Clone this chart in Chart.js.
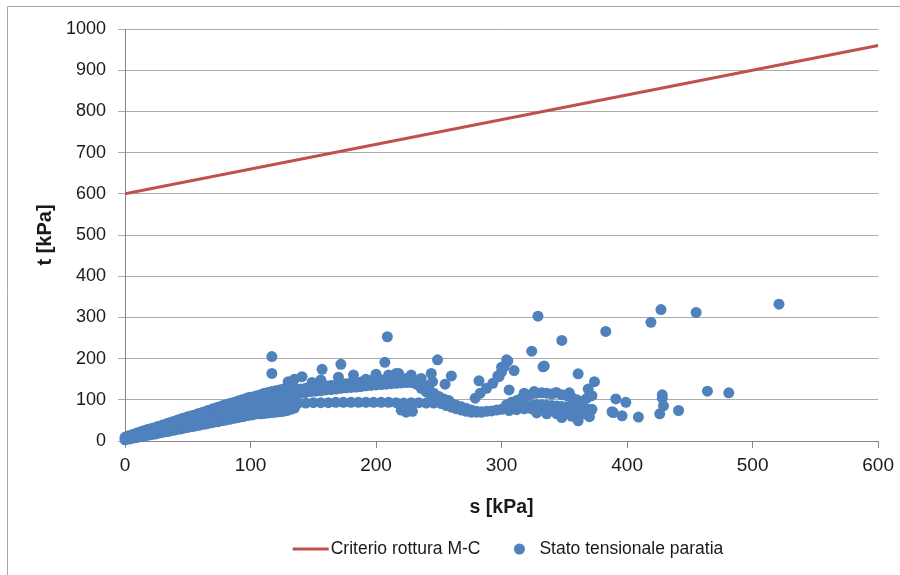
<!DOCTYPE html>
<html>
<head>
<meta charset="utf-8">
<title>Percorso tensionale paratia</title>
<script src="https://cdn.jsdelivr.net/npm/chart.js@4.4.1/dist/chart.umd.min.js"></script>
<style>
  html, body { margin: 0; padding: 0; background: #ffffff; }
  #wrap { width: 900px; height: 575px; }
</style>
</head>
<body>
<div id="wrap"><canvas id="mohrChart" width="900" height="575"></canvas></div>
<script>
/**************************************************
 * DATA  (s, t in kPa)
 **************************************************/

// Mohr-Coulomb failure envelope
const failureS = [0, 600];
const failureT = [600, 960];

// wall stress state, read as [s, t] pairs
const rampLower = [
  [0,3],[2,5],[4,5],[6,7],[8,8],[10,9],[12,11],[14,11],[16,13],[18,14],[20,15],[22,17],[24,17],
  [26,19],[28,20],[30,21],[32,23],[34,23],[36,25],[38,26],[40,27],[42,29],[44,29],[46,31],[48,32],
  [50,33],[52,35],[54,35],[56,37],[58,38],[60,39],[62,41],[64,41],[66,43],[68,44],[70,45],[72,47],
  [74,47],[76,49],[78,50],[80,51],[82,53],[84,53],[86,55],[88,56],[90,57],[92,59],[94,59],[96,61],
  [98,62],[100,63]
];

const rampUpper = [
  [0,9],[2,12],[4,13],[6,16],[8,17],[10,20],[12,21],[14,24],[16,25],[18,28],[20,29],[22,31],[24,32],
  [26,35],[28,36],[30,39],[32,40],[34,43],[36,44],[38,47],[40,48],[42,51],[44,52],[46,55],[48,56],
  [50,59],[52,60],[54,62],[56,63],[58,66],[60,67],[62,70],[64,71],[66,74],[68,75],[70,78],[72,79],
  [74,82],[76,83],[78,86],[80,87],[82,90],[84,91],[86,93],[88,94],[90,97],[92,98],[94,101],[96,102],
  [98,105],[100,106]
];

const rampMiddle = [
  [40,38],[43,40],[46,43],[49,45],[52,48],[55,50],[58,52],[61,55],[64,57],[67,59],[70,62],[73,64],
  [76,67],[79,69],[82,71],[85,74],[88,76],[91,78],[94,81],[97,83],[100,85]
];

const rampTop = [
  [102,64],[105,66],[108,66],[111,67],[114,68],[117,69],[120,70],[123,71],[126,72],[129,74],[132,77],[135,80],
  [102,78],[105,80],[108,82],[111,84],[114,86],[117,88],[120,90],[123,92],[126,94],[129,96],[132,98],[135,101],
  [102,94],[105,97],[108,100],[111,102],[114,105],[117,107],[120,110],[123,112],[126,114],[129,116],[132,118],[135,119],
  [102,107],[105,110],[108,112],[111,116],[114,118],[117,120],[120,122],[123,124],[126,126],[129,127],[132,128],[135,129]
];

const arcPoints = [
  [136,114],[140,116],[144,118],[148,120],[152,121],[156,122],[160,124],[164,125],[168,126],[172,128],
  [176,129],[180,130],[184,131],[188,132],[192,134],[196,135],[200,136],[204,137],[208,138],[212,139],
  [216,140],[220,141],[224,142],[228,142],
  [136,124],[140,126],[144,128],[148,130],[152,131],[156,132],[160,134],[164,135],[168,136],[172,138],
  [176,139],[180,141],[184,142],[188,143],[192,145],[196,146],[200,147],[204,148],[208,150],[212,150],
  [216,151],[220,152],[224,152],[228,150],
  [232,138],[236,128],[240,119],[244,111],[248,104],[252,99],[256,95],[260,91],[264,87],[268,83],
  [272,79],[276,75],[280,72],[284,70],
  [234,146],[238,136],[242,126],[246,116],[250,108],[254,102],[258,98]
];

const flatRow = [
  [126,90],[132,91],[138,92],[144,92],[150,93],[156,93],[162,93],[168,94],[174,94],[180,94],[186,94],
  [192,94],[198,94],[204,94],[210,94],[216,93],[222,92],[228,93],[234,93],[240,92],[246,92],[252,91],
  [220,75],[224,70],[229,72],[226,80],
  [256,86],[260,82],[264,78],[268,75],[272,72],[276,70],[280,70],[284,71],[288,72],[292,73],[296,75],[300,77]
];

const tailBand = [
  [304,80],[308,82],[312,84],[316,85],[320,86],[324,87],[328,88],[332,88],[336,87],[340,86],[344,85],
  [348,84],[352,83],[356,82],[360,80],[364,79],[368,78],[372,77],
  [306,74],[312,76],[318,78],[324,78],[330,77],[336,76],[342,74],[348,72],[354,73],[360,74],[366,72],
  [304,88],[308,94],[312,98],[316,104],[320,110],[324,114],[328,116],[332,117],[336,116],[340,114],
  [344,117],[348,112],[352,110],[356,105],[360,100],[364,96],[368,104],[372,110],
  [328,68],[336,66],[344,66],[348,57],[356,60],[361,49],[366,66],[370,59],
  [279,104],[283,116],[288,128],[293,140],[297,158],[298,156],[300,168],[300,179],[302,180],[304,197],
  [305,194],[310,171],[306,124],[318,116],[326,120]
];

const scatterPoints = [
  [117,205],[117,164],[130,144],[135,150],[141,156],[149,142],[156,148],[157,174],[170,155],[172,186],
  [182,160],[192,150],[200,162],[207,191],[209,253],[210,160],[216,164],[218,164],[228,160],[236,152],
  [244,164],[245,144],[249,197],[255,138],[260,158],[282,146],
  [324,218],[329,303],[333,180],[334,182],[343,117],[348,244],[354,117],[361,163],[369,126],[374,144],
  [383,266],[388,71],[389,69],[391,102],[396,61],[399,94],[409,58],[419,288],[426,66],[427,319],
  [428,104],[428,112],[429,85],[441,74],[455,312],[464,121],[481,117],[521,332]
];

/**************************************************
 * HELPERS
 **************************************************/
const FONT = "'Liberation Sans', Arial, sans-serif";
const TEXT = "#1a1a1a";

const toXY = pts => pts.map(p => ({ x: p[0], y: p[1] }));

const stressPoints = [].concat(rampLower, rampMiddle, rampUpper, rampTop, arcPoints, flatRow, tailBand, scatterPoints);

// thin frame along the top and left edge
const frame = {
  id: "frame",
  beforeDraw(chart) {
    const ctx = chart.ctx;
    ctx.save();
    ctx.strokeStyle = "#a6a6a6";
    ctx.lineWidth = 1;
    ctx.beginPath();
    ctx.moveTo(7.5, chart.height);
    ctx.lineTo(7.5, 6.5);
    ctx.lineTo(chart.width, 6.5);
    ctx.stroke();
    ctx.restore();
  }
};

// legend row under the x axis title
const bottomLegend = {
  id: "bottomLegend",
  afterDraw(chart) {
    const ctx = chart.ctx;
    const ds = chart.data.datasets;
    const y = 549;
    ctx.save();
    ctx.font = "17.5px " + FONT;
    ctx.textBaseline = "middle";
    ctx.textAlign = "left";
    const w1 = ctx.measureText(ds[0].label).width;
    const w2 = ctx.measureText(ds[1].label).width;
    const total = 36 + 2 + w1 + 39 + 20 + w2;
    let x = 508 - total / 2;

    ctx.strokeStyle = ds[0].borderColor;
    ctx.lineWidth = 3;
    ctx.beginPath();
    ctx.moveTo(x, y);
    ctx.lineTo(x + 36, y);
    ctx.stroke();
    x += 38;
    ctx.fillStyle = TEXT;
    ctx.fillText(ds[0].label, x, y);
    x += w1 + 39;

    ctx.fillStyle = ds[1].backgroundColor;
    ctx.beginPath();
    ctx.arc(x, y, 5.5, 0, Math.PI * 2);
    ctx.fill();
    x += 20;
    ctx.fillStyle = TEXT;
    ctx.fillText(ds[1].label, x, y);
    ctx.restore();
  }
};

/**************************************************
 * CHART
 **************************************************/
const ctx = document.getElementById("mohrChart").getContext("2d");

new Chart(ctx, {
  type: "scatter",
  data: {
    datasets: [
      {
        label: "Criterio rottura M-C",
        data: failureS.map((s, i) => ({ x: s, y: failureT[i] })),
        showLine: true,
        borderColor: "#C0504D",
        backgroundColor: "#C0504D",
        borderWidth: 3,
        pointRadius: 0
      },
      {
        label: "Stato tensionale paratia",
        data: toXY(stressPoints),
        backgroundColor: "#4F81BD",
        borderColor: "#4F81BD",
        borderWidth: 0,
        pointRadius: 5.5,
        clip: false
      }
    ]
  },
  options: {
    responsive: false,
    animation: false,
    devicePixelRatio: 1,
    layout: { padding: { left: 0, right: 21, top: 29, bottom: 50 } },
    plugins: {
      legend: { display: false },
      tooltip: { enabled: false }
    },
    scales: {
      x: {
        type: "linear",
        min: 0,
        max: 600,
        ticks: {
          stepSize: 100, color: TEXT, padding: 6,
          font: { family: FONT, size: 19 },
          callback: v => String(v)
        },
        grid: { drawOnChartArea: false, drawTicks: true, tickLength: 7, color: "#868686" },
        border: { color: "#868686", width: 1 },
        title: {
          display: true,
          text: "s [kPa]",
          color: TEXT,
          font: { family: FONT, size: 19.5, weight: "bold" },
          padding: { top: 0, bottom: 6 }
        },
        afterFit(scale) { scale.height = 84; }
      },
      y: {
        type: "linear",
        min: 0,
        max: 1000,
        ticks: {
          stepSize: 100, color: TEXT, padding: 12,
          font: { family: FONT, size: 18 },
          callback: v => String(v)
        },
        grid: { color: "#ababab", tickLength: 7 },
        border: { color: "#868686", width: 1 },
        title: {
          display: true,
          text: "t [kPa]",
          color: TEXT,
          font: { family: FONT, size: 20, weight: "bold" },
          padding: { top: 33, bottom: 0 }
        },
        afterFit(scale) { scale.width = 125; }
      }
    }
  },
  plugins: [frame, bottomLegend]
});
</script>
</body>
</html>
